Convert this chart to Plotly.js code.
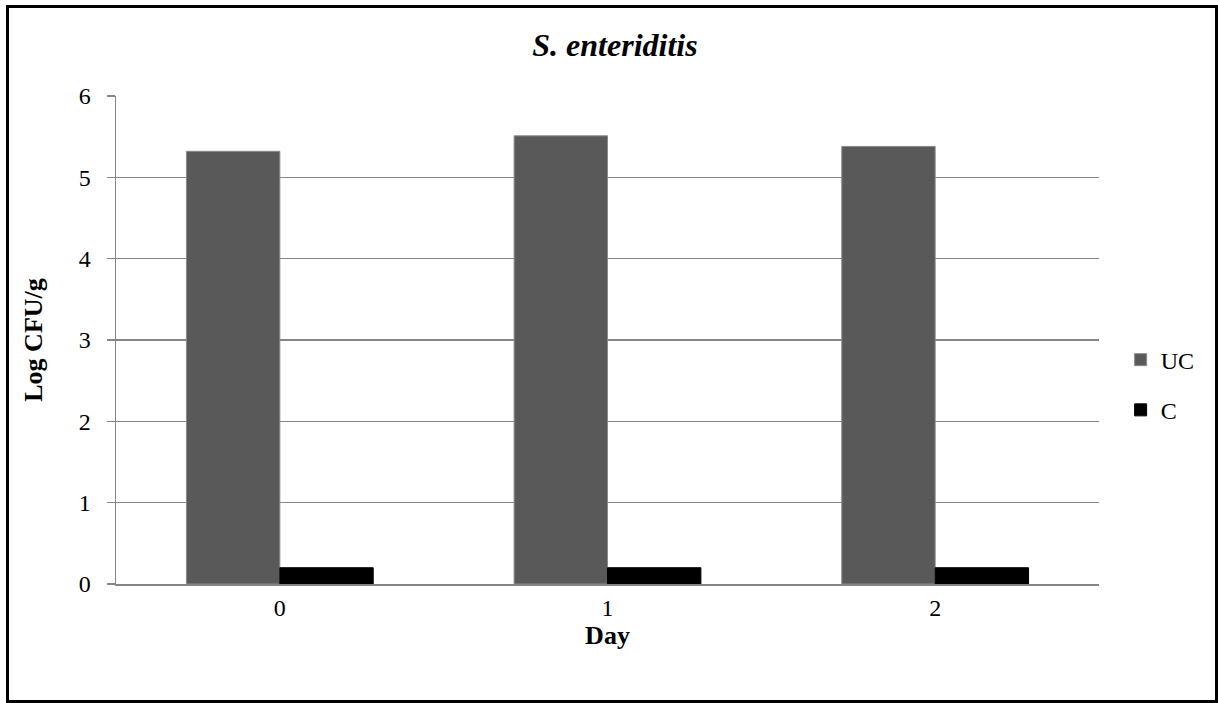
<!DOCTYPE html>
<html>
<head>
<meta charset="utf-8">
<script src="https://cdn.plot.ly/plotly-3.0.1.min.js"></script>
<style>
  html, body { margin: 0; padding: 0; background: #ffffff; }
  #chart { width: 1218px; height: 703px; position: relative; }
  #frame {
    position: absolute; left: 6px; top: 5px; width: 1206px; height: 692px;
    border: 3px solid #000000; pointer-events: none; box-sizing: content-box;
  }
</style>
</head>
<body>
<div id="chart"></div>
<div id="frame"></div>
<script>
// Days sampled
const days = ['0', '1', '2'];
// Log CFU/g counts for uncoated (UC) and coated (C) samples
const ucValues = [5.32, 5.51, 5.38];
const cValues = [0.2, 0.2, 0.2];
const yTicks = [0, 1, 2, 3, 4, 5, 6];

const serif = 'Liberation Serif, Times New Roman, serif';

const traces = [
  {
    type: 'bar', name: 'UC', x: days, y: ucValues,
    marker: { color: '#595959', line: { color: '#8a8a8a', width: 1 } },
    legendgroup: 'uc', hoverinfo: 'x+y'
  },
  {
    type: 'bar', name: 'C', x: days, y: cValues,
    marker: { color: '#000000', line: { color: '#000000', width: 1 } },
    legendgroup: 'c', hoverinfo: 'x+y'
  }
];

const layout = {
  width: 1218, height: 703,
  paper_bgcolor: '#ffffff', plot_bgcolor: '#ffffff',
  margin: { l: 116, r: 119, t: 96, b: 119 },
  barmode: 'group', bargap: 0.43, bargroupgap: 0,
  title: {
    text: '<b><i>S. enteriditis</i></b>',
    font: { family: serif, size: 32, color: '#000000' },
    x: 0.5076, xanchor: 'center', xref: 'paper',
    y: 1 - 45 / 703, yanchor: 'middle', yref: 'container'
  },
  xaxis: {
    type: 'category',
    tickfont: { family: serif, size: 24, color: '#000000' },
    showline: true, linecolor: '#868686', linewidth: 1.5,
    ticks: '', showgrid: false, ticklabelstandoff: 2,
    title: { text: '<b>Day</b>', font: { family: serif, size: 26, color: '#000000' }, standoff: 0 }
  },
  yaxis: {
    range: [0, 6], tickvals: yTicks, ticktext: yTicks.map(String),
    tickfont: { family: serif, size: 24, color: '#000000' },
    showline: true, linecolor: '#868686', linewidth: 1.5,
    ticks: 'outside', ticklen: 8, tickcolor: '#868686', tickwidth: 1.5,
    showgrid: true, gridcolor: '#868686', gridwidth: 1.5,
    zeroline: false, ticklabelstandoff: 11,
    title: { text: '<b>Log CFU/g</b>', font: { family: serif, size: 26, color: '#000000' }, standoff: 28 }
  },
  legend: {
    x: 1.022, xanchor: 'left', y: 0.505, yanchor: 'top',
    font: { family: serif, size: 24, color: '#000000' },
    traceorder: 'grouped', tracegroupgap: 16,
    bgcolor: 'rgba(0,0,0,0)', borderwidth: 0
  },
  showlegend: true
};

Plotly.newPlot('chart', traces, layout, { displayModeBar: false, staticPlot: true });
</script>
</body>
</html>
